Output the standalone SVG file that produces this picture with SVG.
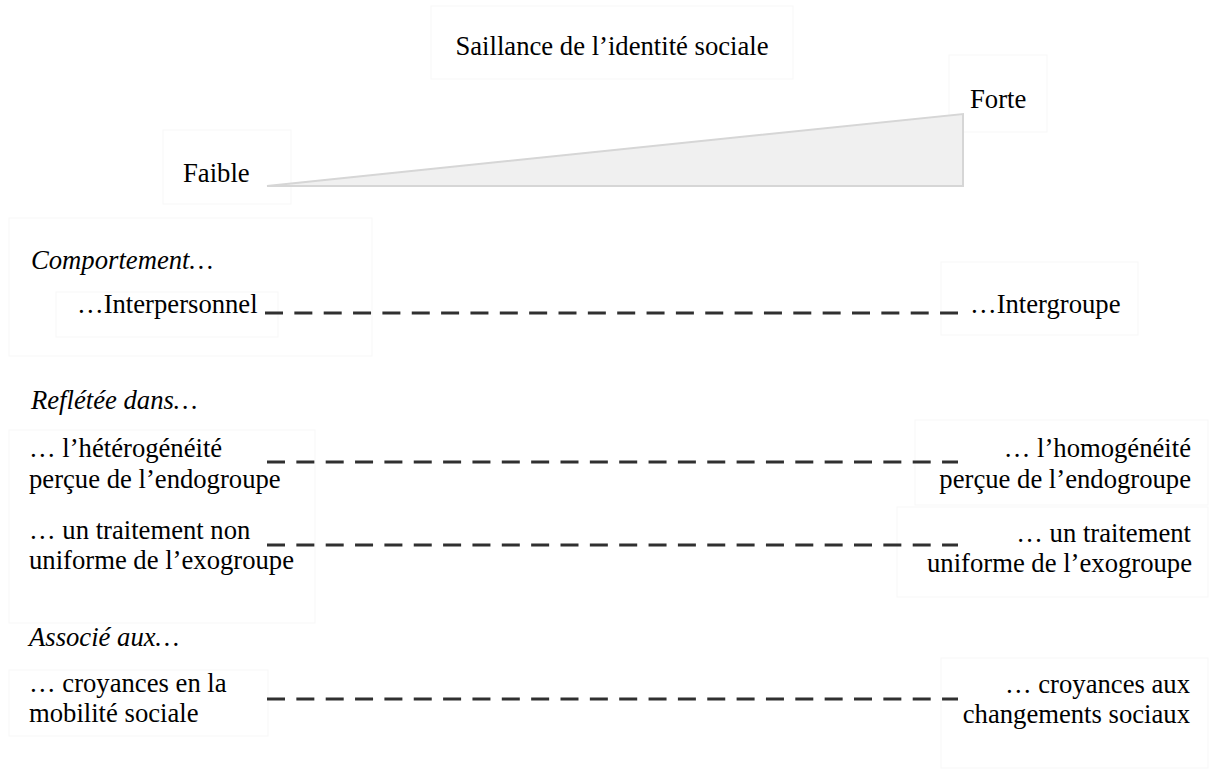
<svg xmlns="http://www.w3.org/2000/svg" width="1209" height="769" viewBox="0 0 1209 769">
<style>
.t{font-family:"Liberation Serif","Times New Roman",serif;font-size:26.67px;fill:#000}
.i{font-style:italic}
.r{text-anchor:end}
.box{fill:none;stroke:#f7f7f7;stroke-width:1}
.dash{stroke:#303030;stroke-width:3;stroke-dasharray:18 11.35;fill:none}
</style>
<rect width="1209" height="769" fill="#fff"/>
<g id="frames">
<rect class="box" x="431" y="6" width="362" height="73"/>
<rect class="box" x="163" y="130" width="128" height="74"/>
<rect class="box" x="949" y="55" width="98" height="77"/>
<rect class="box" x="9" y="218" width="363" height="138"/>
<rect class="box" x="56" y="292" width="222" height="45"/>
<rect class="box" x="941" y="262" width="197" height="73"/>
<rect class="box" x="9" y="430" width="306" height="193"/>
<rect class="box" x="915" y="420" width="293" height="85"/>
<rect class="box" x="897" y="507" width="311" height="90"/>
<rect class="box" x="9" y="670" width="259" height="66"/>
<rect class="box" x="941" y="658" width="267" height="110"/>
</g>
<g id="scale">
<polygon points="267,186 963,114 963,186" fill="#f0f0f0" stroke="#d6d6d6" stroke-width="2"/>
</g>
<g id="title"><text class="t" x="612" y="55" text-anchor="middle">Saillance de l’identité sociale</text></g>
<g id="faible"><text class="t" x="183" y="182">Faible</text></g>
<g id="forte"><text class="t" x="970" y="108">Forte</text></g>
<g id="head-comportement"><text class="t i" x="31" y="269">Comportement…</text></g>
<g id="interpersonnel"><text class="t" x="77" y="313">…Interpersonnel</text></g>
<g id="intergroupe"><text class="t" x="970" y="313">…Intergroupe</text></g>
<g id="head-refletee"><text class="t i" x="31" y="409">Reflétée dans…</text></g>
<g id="heterogeneite"><text class="t" x="29" y="457">… l’hétérogénéité</text><text class="t" x="29" y="488">perçue de l’endogroupe</text></g>
<g id="homogeneite"><text class="t r" x="1191" y="457">… l’homogénéité</text><text class="t r" x="1191" y="488">perçue de l’endogroupe</text></g>
<g id="non-uniforme"><text class="t" x="29" y="539">… un traitement non</text><text class="t" x="29" y="569">uniforme de l’exogroupe</text></g>
<g id="uniforme"><text class="t r" x="1191" y="542">… un traitement</text><text class="t r" x="1192" y="572">uniforme de l’exogroupe</text></g>
<g id="head-associe"><text class="t i" x="29" y="646">Associé aux…</text></g>
<g id="mobilite"><text class="t" x="29" y="692">… croyances en la</text><text class="t" x="29" y="722">mobilité sociale</text></g>
<g id="changements"><text class="t r" x="1190" y="693">… croyances aux</text><text class="t r" x="1190" y="723">changements sociaux</text></g>
<g id="connectors">
<line class="dash" x1="265" y1="313" x2="958" y2="313"/>
<line class="dash" x1="267" y1="462" x2="958" y2="462"/>
<line class="dash" x1="267" y1="545" x2="958" y2="545"/>
<line class="dash" x1="267" y1="699" x2="958" y2="699"/>
</g>
</svg>
